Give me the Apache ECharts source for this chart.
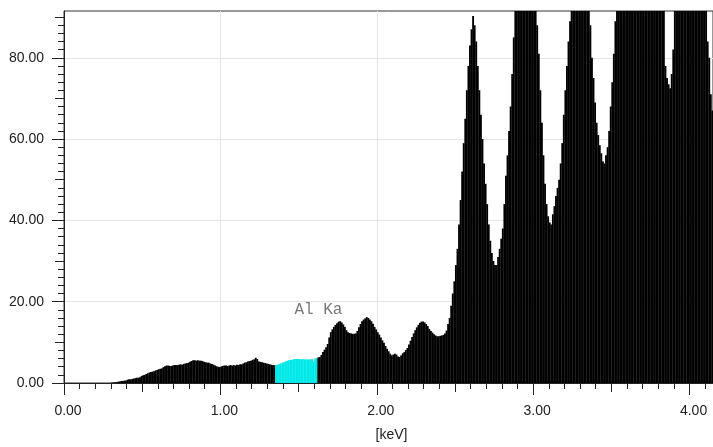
<!DOCTYPE html>
<html>
<head>
<meta charset="utf-8">
<script src="https://cdn.jsdelivr.net/npm/echarts@6/dist/echarts.min.js"></script>
<style>
html,body{margin:0;padding:0;background:#fff;}
#chart{width:713px;height:447px;}
</style>
</head>
<body>
<div id="chart"></div>
<script>
// ---- data ----
const channelStart = 0.0;      // keV
const channelWidth = 0.01;     // keV per channel
const counts = [
  0,0,0,0,0,0,0,0,0,0,
  0,0,0,0,0,0,0,0,0,0,
  0,0,0,0,0,0,0,0,0,0,
  0.1,0.1,0.2,0.2,0.3,0.4,0.5,0.5,0.6,0.6,
  0.8,0.9,0.9,1.0,1.1,1.2,1.3,1.3,1.4,1.7,
  1.9,2.0,2.2,2.4,2.6,2.7,2.8,2.9,3.1,3.2,
  3.4,3.5,3.6,3.9,4.1,4.3,4.3,4.2,4.2,4.3,
  4.4,4.4,4.4,4.5,4.6,4.5,4.7,4.8,4.9,5.0,
  5.2,5.4,5.6,5.6,5.5,5.6,5.5,5.5,5.4,5.2,
  5.1,5.0,5.0,4.8,4.7,4.5,4.3,4.1,4.0,3.9,
  4.1,4.2,4.3,4.3,4.2,4.3,4.4,4.3,4.4,4.3,
  4.5,4.4,4.6,4.6,4.8,5.0,5.1,5.3,5.4,5.5,
  5.7,5.8,6.2,5.9,5.3,5.2,5.1,5.0,4.9,4.8,
  4.7,4.6,4.5,4.4,4.4,4.35,4.5,4.6,4.8,5.0,
  5.1,5.3,5.4,5.6,5.7,5.7,5.8,5.9,5.9,5.9,
  5.9,5.8,5.9,5.8,5.8,5.8,5.8,5.8,5.9,5.3,
  6.0,6.1,6.3,6.4,6.9,7.6,8.2,8.8,9.6,11.2,
  12.5,13.2,13.8,14.3,14.7,15.1,15.2,14.9,14.4,13.8,
  13.0,12.5,12.3,12.2,12.1,12.1,12.2,12.8,13.7,14.5,
  15.2,15.6,15.9,16.2,16.0,15.6,15.2,14.6,13.8,13.2,
  12.5,11.9,11.2,10.5,9.9,9.1,8.4,7.8,7.2,6.8,
  7.0,7.2,7.0,6.5,6.4,6.8,7.3,7.6,8.1,8.6,
  9.5,10.4,11.3,12.2,13.0,13.7,14.3,14.8,15.1,15.1,
  14.9,14.5,14.0,13.3,12.8,12.4,12.0,11.7,11.5,11.5,
  11.6,11.7,11.8,12.2,12.9,14.5,16,19,22,25,
  29,33,39,45,52,59,65,72,78,83,
  87,90.3,88,84,78,72,66,60,54,49,
  44,39,35,32,30,29,29,31,33,35.5,
  38,44,51,56,62,68,76,85,93,98,
  103,108,113,117,119,120,119,116,111,106,
  100,94,88,81,72,64,56,49,44,41,
  39.5,39,41.5,43.5,46,48,50,54,59,66,
  72,78,84,89,95,101,106,111,114,116,
  116,114,110,105,99,93,88,80,75,69,
  64,61,58.5,56.5,54.5,54,56,58,62,68,
  74,81,89,95,100,105,109,113,116,119,
  122,124,126,128,129,130,130,130,129,128,
  126,124,122,120,118,116,114,112,110,108,
  105,102,98,93,78,75,73.5,72.5,76,82,
  92,98,104,109,113,117,120,122,124,125,
  125,124,123,121,118,115,111,107,103,98,
  93,84,80,71,67
];
// highlighted region of interest (Al Ka window), keV
const roiStart = 1.35;
const roiEnd = 1.62;
// annotation
const annotationText = ['Al Ka'];
const annotationX = [1.627];
const annotationY = [18.1];
// axes
const xMin = 0, xMax = 4.15;
const yMin = 0, yMax = 91.5;
const xMajorTicks = [0, 1, 2, 3, 4];
const xMediumTicks = [0.5, 1.5, 2.5, 3.5];
const yMajorTicks = [0, 20, 40, 60, 80];
const yMediumTicks = [10, 30, 50, 70, 90];
const xMinorTicks = [];
for (let k = 1; k <= 41; k++) xMinorTicks.push(+(k * 0.1).toFixed(1));
const yMinorTicks = [];
for (let k = 1; k <= 45; k++) yMinorTicks.push(k * 2);

// ---- build series data ----
const barData = counts.map((c, i) => {
  const e0 = +(channelStart + i * channelWidth).toFixed(4);
  const e1 = +(channelStart + (i + 1) * channelWidth).toFixed(4);
  const inRoi = (e0 >= roiStart - 1e-9 && e1 <= roiEnd + 1e-9) ? 1 : 0;
  return [e0, e1, c, inRoi];
});

const axisColor = '#222';
const labelFont = {fontFamily: 'Liberation Sans, Arial, sans-serif', fontSize: 14, color: '#222'};

function xAxisDef(ticks, len, withLabels) {
  return {
    type: 'value', min: xMin, max: xMax, position: 'bottom', interval: 1,
    axisLine: {show: withLabels, onZero: false, lineStyle: {color: axisColor, width: 1}},
    axisTick: {show: true, length: len, customValues: ticks, lineStyle: {color: axisColor, width: 1}},
    axisLabel: withLabels ? Object.assign({
      show: true, customValues: xMajorTicks, margin: 21, padding: [0, 0, 0, 8],
      formatter: v => v.toFixed(2)
    }, labelFont) : {show: false},
    splitLine: withLabels ? {show: true, lineStyle: {color: '#e6e6e6', width: 1}} : {show: false},
    name: withLabels ? '[keV]' : '',
    nameLocation: 'middle', nameGap: 45,
    nameTextStyle: Object.assign({padding: [0, 0, 0, 6]}, labelFont)
  };
}
function yAxisDef(ticks, len, withLabels) {
  return {
    type: 'value', min: yMin, max: yMax, position: 'left', interval: 20,
    axisLine: {show: withLabels, onZero: false, lineStyle: {color: axisColor, width: 1}},
    axisTick: {show: true, length: len, customValues: ticks, lineStyle: {color: axisColor, width: 1}},
    axisLabel: withLabels ? Object.assign({
      show: true, customValues: yMajorTicks, margin: 20,
      formatter: v => v.toFixed(2)
    }, labelFont) : {show: false},
    splitLine: withLabels ? {show: true, lineStyle: {color: '#e6e6e6', width: 1}} : {show: false}
  };
}

const chart = echarts.init(document.getElementById('chart'), null, {renderer: 'canvas'});
chart.setOption({
  animation: false,
  backgroundColor: '#fff',
  grid: {left: 64, right: 0, top: 11, bottom: 62, show: true, borderColor: '#333', borderWidth: 1, backgroundColor: 'transparent'},
  xAxis: [
    xAxisDef(xMajorTicks, 12, true),
    xAxisDef(xMediumTicks, 9, false),
    xAxisDef(xMinorTicks, 6, false)
  ],
  yAxis: [
    yAxisDef(yMajorTicks, 12, true),
    yAxisDef(yMediumTicks, 9, false),
    yAxisDef(yMinorTicks, 6, false)
  ],
  series: [
    {
      type: 'custom',
      xAxisIndex: 0, yAxisIndex: 0,
      clip: true,
      silent: true,
      encode: {x: [0, 1], y: 2},
      data: barData,
      renderItem: function (params, api) {
        const x0 = api.value(0), x1 = api.value(1);
        const y = Math.min(api.value(2), yMax);
        const roi = api.value(3);
        const p0 = api.coord([x0, y]);
        const p1 = api.coord([x1, 0]);
        return {
          type: 'rect',
          shape: {x: p0[0], y: p0[1], width: p1[0] - p0[0] + 0.3, height: p1[1] - p0[1]},
          style: {fill: roi ? '#00e8e8' : '#000'}
        };
      }
    },
    {
      type: 'scatter',
      xAxisIndex: 0, yAxisIndex: 0,
      silent: true,
      symbolSize: 0,
      data: annotationX.map((x, i) => ({value: [x, annotationY[i]], name: annotationText[i]})),
      label: {
        show: true, position: 'inside', formatter: p => p.name,
        fontFamily: 'Liberation Mono, Courier New, monospace', fontSize: 16, color: '#555'
      }
    }
  ]
});
</script>
</body>
</html>
